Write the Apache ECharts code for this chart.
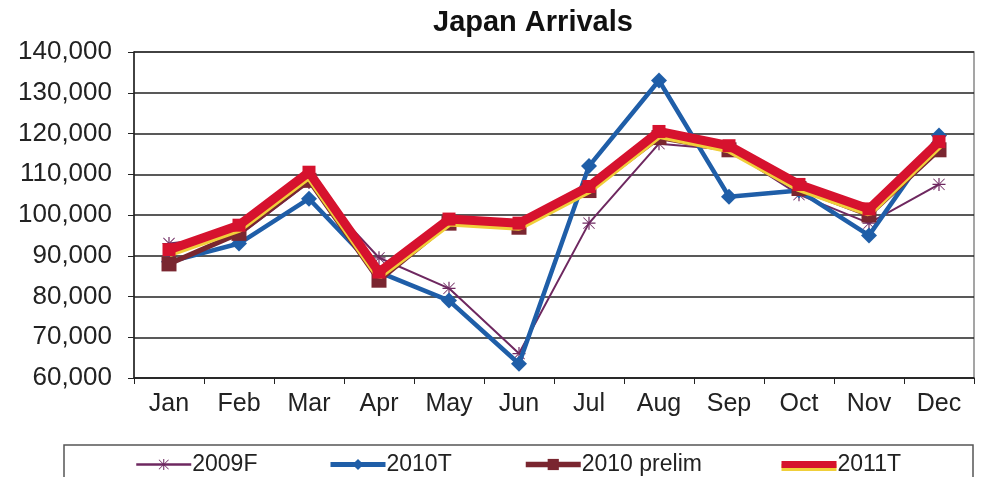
<!DOCTYPE html>
<html>
<head>
<meta charset="utf-8">
<script src="https://cdn.jsdelivr.net/npm/echarts@6/dist/echarts.min.js"></script>
<style>
html,body{margin:0;padding:0;background:#fff;}
#chart{width:983px;height:477px;}
</style>
</head>
<body>
<div id="chart"></div>
<script>
var months = ['Jan','Feb','Mar','Apr','May','Jun','Jul','Aug','Sep','Oct','Nov','Dec'];
var s2009F = [93000, 95000, 108000, 89500, 82000, 66000, 98000, 117500, 116000, 105000, 98000, 107500];
var s2010T = [88500, 93000, 104000, 86000, 79000, 63500, 112000, 133000, 104500, 106000, 95000, 119500];
var s2010prelim = [88000, 95500, 108500, 84000, 98000, 97000, 106000, 119000, 116000, 106500, 100000, 116000];
var s2011T = [91500, 97500, 110500, 86000, 99000, 98000, 107000, 120500, 117000, 107500, 101500, 118000];
var yTicks = {min: 60000, max: 140000, step: 10000};

var star = 'path://M-10,-9 L-9,-10 L10,9 L9,10 Z M10,-9 L9,-10 L-10,9 L-9,10 Z M-1,-11 L1,-11 L1,11 L-1,11 Z M-11,-1 L11,-1 L11,1 L-11,1 Z';

var chart = echarts.init(document.getElementById('chart'));
var font = 'Liberation Sans, Arial, sans-serif';
function leg(name, left, lw, extra) {
  var o = {
    data: [name], left: left, top: 453, itemWidth: 55, itemHeight: 14, itemGap: 0,
    padding: 0,
    lineStyle: {width: lw},
    textStyle: {fontFamily: font, fontSize: 23, color: '#222', padding: [0,0,0,-4]}
  };
  if (extra) { for (var k in extra) o[k] = extra[k]; }
  return o;
}
chart.setOption({
  animation: false,
  backgroundColor: '#fff',
  title: {
    text: 'Japan Arrivals', left: 428, top: 3,
    textStyle: {fontFamily: font, fontSize: 29, fontWeight: 'bold', color: '#111'}
  },
  legend: [
    leg('2009F', 135, 2.5),
    leg('2010T', 328, 5),
    leg('2010 prelim', 523, 5.5),
    leg('2011T', 778, 7, {itemStyle: {opacity: 0},
      lineStyle: {width: 7, shadowColor: '#f0cf3a', shadowOffsetY: 3, shadowBlur: 0}})
  ],
  graphic: [{
    type: 'rect', shape: {x: 64, y: 445, width: 909, height: 45},
    style: {fill: 'none', stroke: '#555', lineWidth: 1.5}, silent: true
  }],
  grid: {left: 134, right: 9, top: 52, bottom: 99, show: true, borderColor: '#888', borderWidth: 1.5},
  xAxis: {
    type: 'category', data: months, boundaryGap: true,
    axisLine: {lineStyle: {color: '#222', width: 1.5}},
    axisTick: {show: true, interval: 0, length: 6, lineStyle: {color: '#222'}},
    axisLabel: {fontFamily: font, fontSize: 25, color: '#222', margin: 14, interval: 0}
  },
  yAxis: {
    type: 'value', min: yTicks.min, max: yTicks.max, interval: yTicks.step,
    axisLine: {show: true, lineStyle: {color: '#222', width: 1.5}},
    axisTick: {show: true, length: 6, lineStyle: {color: '#222'}},
    axisLabel: {fontFamily: font, fontSize: 26, color: '#222', margin: 22,
      formatter: function (v) { return v.toLocaleString('en-US'); }},
    splitLine: {lineStyle: {color: '#222', width: 1.5}}
  },
  series: [
    {name: '2009F', type: 'line', data: s2009F, symbol: star, symbolSize: 13,
      lineStyle: {color: '#6e2860', width: 2}, itemStyle: {color: '#6e2860'}, z: 2},
    {name: '2010T', type: 'line', data: s2010T, symbol: 'diamond', symbolSize: 16,
      lineStyle: {color: '#1f5ea8', width: 4.5}, itemStyle: {color: '#1f5ea8'}, z: 3},
    {name: '2010 prelim', type: 'line', data: s2010prelim, symbol: 'rect', symbolSize: 15,
      lineStyle: {color: '#7a2630', width: 5}, itemStyle: {color: '#7a2630'}, z: 4},
    {name: '2011T', type: 'line', data: s2011T, symbol: 'rect', symbolSize: 13,
      lineStyle: {color: '#d6122e', width: 9, shadowColor: '#f0cf3a', shadowOffsetY: 3, shadowBlur: 0},
      itemStyle: {color: '#d6122e'}, z: 5}
  ]
});
</script>
</body>
</html>
